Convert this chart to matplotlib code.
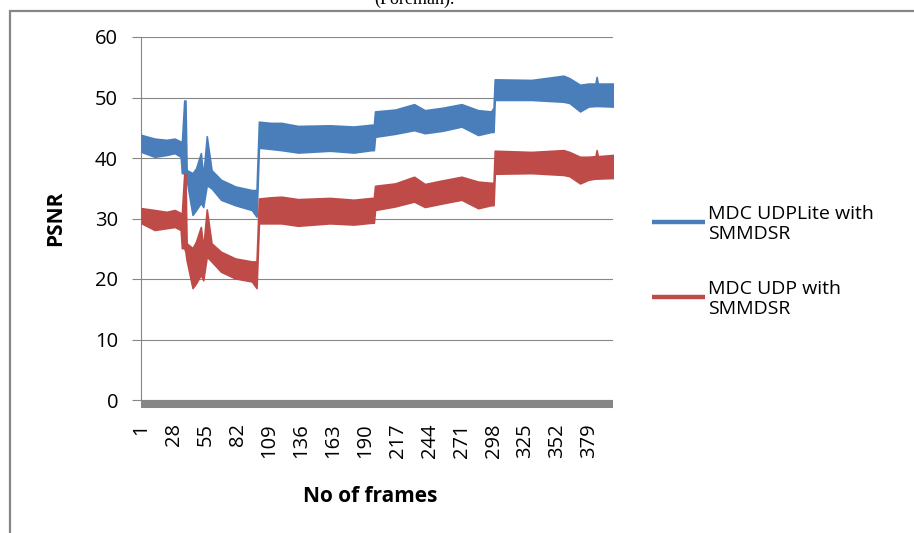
import matplotlib
matplotlib.use("Agg")
import matplotlib.pyplot as plt
from matplotlib.lines import Line2D
from matplotlib.patches import Rectangle

plt.rcParams['font.family'] = ['Open Sans', 'DejaVu Sans']

# band envelopes (frame, lower, upper)
blue_frames = [1, 12, 22, 29, 34, 35, 37, 38, 39, 44, 47, 51, 53, 56, 60, 68, 80, 94, 98,
               100, 110, 119, 133, 160, 180, 195, 197, 198, 215, 231, 240, 255, 271, 285,
               296, 298, 299, 330, 357, 362, 371, 378, 384, 385, 386, 399, 400]
blue_low = [41.0, 40.2, 40.5, 40.8, 40.2, 37.5, 37.5, 37.0, 36.4, 30.6, 31.4, 32.6, 31.9,
            35.5, 35.0, 33.1, 32.2, 31.4, 30.3,
            41.7, 41.5, 41.3, 40.9, 41.2, 40.9, 41.3, 41.3, 43.5, 44.0, 44.6, 44.1, 44.5,
            45.2, 43.8, 44.3, 44.3, 49.6, 49.6, 49.3, 49.1, 47.7, 48.5, 48.6, 48.6, 48.6,
            48.5, 48.4]
blue_high = [43.8, 43.2, 43.0, 43.2, 42.7, 42.5, 49.5, 49.5, 38.0, 37.5, 38.3, 40.8, 36.9,
             43.6, 38.0, 36.4, 35.3, 34.7, 34.7,
             46.0, 45.8, 45.8, 45.3, 45.4, 45.2, 45.5, 45.5, 47.7, 48.0, 48.9, 47.9, 48.3,
             48.9, 47.9, 47.7, 48.3, 53.0, 52.9, 53.6, 53.2, 52.1, 52.3, 52.3, 53.4, 52.3,
             52.3, 52.4]

red_frames = blue_frames
red_low = [29.2, 28.1, 28.4, 28.6, 28.1, 25.1, 25.1, 24.5, 23.1, 18.5, 19.3, 20.7, 19.8,
           23.7, 22.9, 21.2, 20.1, 19.6, 18.5,
           29.2, 29.2, 29.2, 28.8, 29.2, 29.0, 29.3, 29.3, 31.4, 32.0, 32.8, 31.9, 32.5,
           33.1, 31.7, 32.2, 32.2, 37.4, 37.5, 37.2, 37.0, 35.8, 36.4, 36.6, 36.6, 36.6,
           36.7, 36.6]
red_high = [31.7, 31.4, 31.1, 31.4, 30.9, 30.9, 37.4, 37.4, 25.9, 25.1, 26.2, 28.6, 25.1,
            31.5, 25.9, 24.5, 23.4, 22.9, 22.9,
            33.3, 33.5, 33.6, 33.2, 33.4, 33.1, 33.4, 33.4, 35.4, 35.8, 36.9, 35.7, 36.3,
            36.9, 36.1, 35.9, 35.9, 41.2, 41.0, 41.3, 41.0, 40.2, 40.2, 40.3, 41.3, 40.3,
            40.5, 40.5]

x_ticks = list(range(1, 400, 27))
series_names = ['MDC UDPLite with\nSMMDSR', 'MDC UDP with\nSMMDSR']
blue = '#4A7EBB'
red = '#BE4B48'
grid_gray = '#868686'

W, H = 914, 533
fig = plt.figure(figsize=(W / 100, H / 100), dpi=100)
ax = fig.add_axes([141 / W, (H - 400) / H, 472 / W, 363 / H])

ax.fill_between(blue_frames, blue_low, blue_high, color=blue, lw=1.2, edgecolor=blue, zorder=3)
ax.fill_between(red_frames, red_low, red_high, color=red, lw=1.2, edgecolor=red, zorder=3)

ax.set_xlim(0.5, 398.8)
ax.set_ylim(0, 60)
ax.set_yticks(range(0, 61, 10))
ax.set_xticks(x_ticks)
ax.set_xticklabels([str(t) for t in x_ticks])
ax.grid(axis='y', color=grid_gray, lw=0.8)
ax.set_axisbelow(True)

for s in ['top', 'right']:
    ax.spines[s].set_visible(False)
ax.spines['left'].set_color(grid_gray)
ax.spines['left'].set_linewidth(0.8)
ax.spines['bottom'].set_color(grid_gray)
ax.spines['bottom'].set_linewidth(5.8)
ax.spines['bottom'].set_capstyle('butt')
ax.spines['bottom'].set_position(('outward', 2.9))
ax.spines['bottom'].set_zorder(4)
ax.tick_params(axis='y', length=6.5, color=grid_gray, width=0.8, labelsize=14.5, pad=10)
ax.tick_params(axis='x', length=0, labelsize=14.5, pad=14, labelrotation=90)

fig.text(56 / W, 1 - 218 / H, 'PSNR', rotation=90, ha='center', va='center',
         fontsize=15, fontweight='bold')
fig.text(370 / W, 1 - 496 / H, 'No of frames', ha='center', va='center',
         fontsize=15, fontweight='bold')

# legend drawn by hand, Excel style
for yline, ytext, col, name in [(222, 205, blue, series_names[0]),
                                 (297, 280, red, series_names[1])]:
    fig.add_artist(Line2D([652 / W, 705 / W], [1 - yline / H, 1 - yline / H],
                          color=col, lw=3.2, solid_capstyle='butt'))
    fig.text(708 / W, 1 - ytext / H, name, ha='left', va='top', fontsize=14,
             linespacing=1.15)

# chart area border and clipped caption
fig.add_artist(Rectangle((10 / W, -0.1), 1.2, 1.1 - 11 / H, transform=fig.transFigure,
                         fill=False, edgecolor=grid_gray, lw=1.6))
fig.text(414 / W, 1 - 4 / H, '(Foreman).', ha='center', va='baseline', fontsize=13,
         family='Liberation Serif')

fig.savefig('out.png', dpi=100)
